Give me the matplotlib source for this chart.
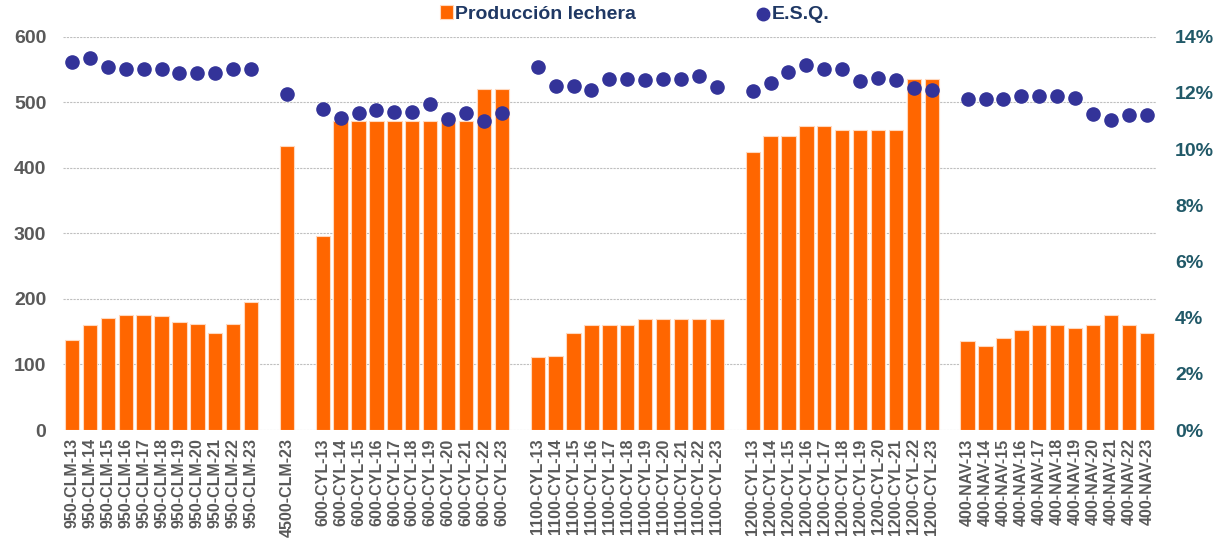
import matplotlib.pyplot as plt
import numpy as np

plt.rcParams['font.family'] = ['Liberation Sans', 'DejaVu Sans']

# datos
grupos = ['950-CLM', '4500-CLM', '600-CYL', '1100-CYL', '1200-CYL', '400-NAV']
anios = [list(range(13, 24)), [23], list(range(13, 24)), list(range(13, 24)),
         list(range(13, 24)), list(range(13, 24))]

prod_950_clm = [138, 160, 171, 176, 176, 174, 165, 161, 148, 161, 196]
prod_4500_clm = [433]
prod_600_cyl = [296, 472, 472, 472, 472, 472, 472, 473, 472, 520, 520]
prod_1100_cyl = [111, 113, 148, 160, 160, 160, 169, 169, 169, 169, 169]
prod_1200_cyl = [424, 449, 449, 464, 464, 458, 458, 458, 458, 535, 535]
prod_400_nav = [136, 128, 140, 152, 160, 160, 155, 160, 176, 160, 148]

esq_950_clm = [13.12, 13.23, 12.94, 12.86, 12.86, 12.86, 12.72, 12.72, 12.72, 12.86, 12.86]
esq_4500_clm = [11.98]
esq_600_cyl = [11.44, 11.11, 11.30, 11.40, 11.34, 11.34, 11.60, 11.08, 11.27, 11.00, 11.27]
esq_1100_cyl = [12.94, 12.24, 12.24, 12.11, 12.50, 12.50, 12.47, 12.50, 12.50, 12.61, 12.21]
esq_1200_cyl = [12.06, 12.35, 12.76, 12.98, 12.84, 12.84, 12.41, 12.54, 12.47, 12.17, 12.10]
esq_400_nav = [11.77, 11.77, 11.80, 11.88, 11.88, 11.91, 11.81, 11.25, 11.04, 11.20, 11.20]

produccion = [prod_950_clm, prod_4500_clm, prod_600_cyl, prod_1100_cyl, prod_1200_cyl, prod_400_nav]
esq = [esq_950_clm, esq_4500_clm, esq_600_cyl, esq_1100_cyl, esq_1200_cyl, esq_400_nav]

# posiciones con un hueco entre grupos
etiquetas, xs, ys_bar, ys_dot = [], [], [], []
pos = 0
for g, a, p, e in zip(grupos, anios, produccion, esq):
    for yy, pv, ev in zip(a, p, e):
        etiquetas.append('%s-%d' % (g, yy))
        xs.append(pos)
        ys_bar.append(pv)
        ys_dot.append(ev)
        pos += 1
    pos += 1
n_slots = pos - 1

fig = plt.figure(figsize=(12.23, 5.51), dpi=100)
ax = fig.add_axes([0.0515, 0.2196, 0.8935, 0.7136])
ax2 = ax.twinx()

ax.set_zorder(1)
ax.patch.set_visible(False)
ax2.set_zorder(2)

gris = '#595959'
bars = ax.bar(xs, ys_bar, width=0.8, color='#FF6600', edgecolor='#FFD9BF', linewidth=0.8,
              label='Producción lechera', zorder=3)
dots = ax2.scatter(xs, ys_dot, s=90, color='#333399', zorder=4, label='E.S.Q.')

ax.set_xlim(-0.5, n_slots - 0.5)
ax.set_ylim(0, 600)
ax.set_yticks(range(0, 601, 100))
ax2.set_ylim(0, 14)
ax2.set_yticks(range(0, 15, 2))
ax2.set_yticklabels(['%d%%' % v for v in range(0, 15, 2)])

ax.yaxis.grid(True, color='#BFBFBF', linestyle=(0, (2, 1)), linewidth=0.8, zorder=0)
ax.set_axisbelow(True)

ax.set_xticks(xs)
ax.set_xticklabels(etiquetas, rotation=90, fontsize=11.5, fontweight='bold', color=gris)
ax.tick_params(axis='x', length=0, pad=6)
ax.tick_params(axis='y', length=0, labelsize=14, labelcolor=gris, pad=12)
for t in ax.get_yticklabels():
    t.set_fontweight('bold')
ax2.tick_params(axis='y', length=0, labelsize=14, labelcolor='#215968', pad=14)
for t in ax2.get_yticklabels():
    t.set_fontweight('bold')

for a in (ax, ax2):
    for s in a.spines.values():
        s.set_visible(False)

leg = fig.legend(handles=[bars, dots], loc='upper center', bbox_to_anchor=(0.519, 1.022),
                 ncol=2, frameon=False, fontsize=14, columnspacing=6.2,
                 handletextpad=0.1, handlelength=0.7, markerscale=0.95)
for t in leg.get_texts():
    t.set_fontweight('bold')
    t.set_color('#1F3864')

fig.savefig('out.png', dpi=100)
